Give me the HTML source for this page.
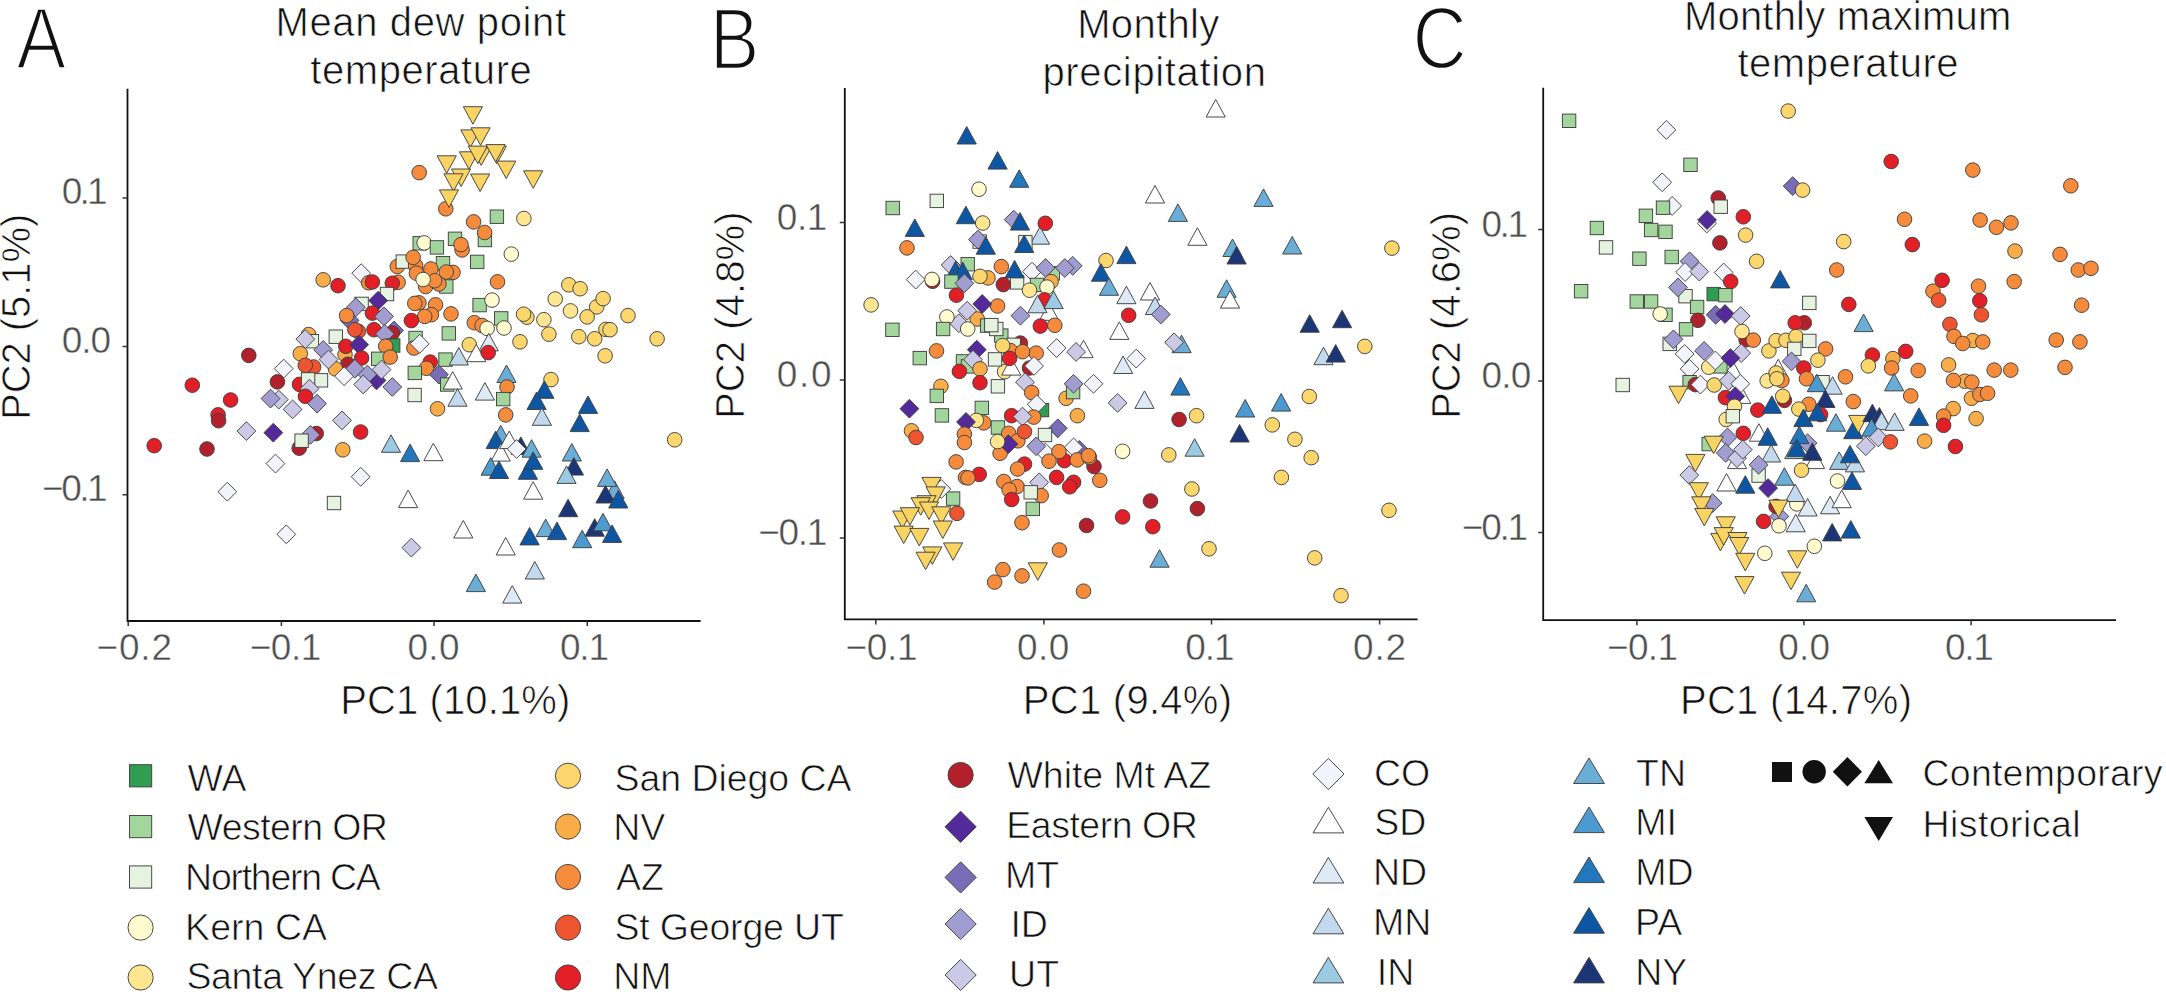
<!DOCTYPE html>
<html lang="en"><head><meta charset="utf-8"><title>PCA of climate variables</title>
<style>
html,body{margin:0;padding:0;background:#fff}
body{width:2166px;height:994px;overflow:hidden}
svg{display:block}
text{font-family:"Liberation Sans",sans-serif;fill:#111;stroke:#fff;stroke-width:.7px;paint-order:fill stroke}
.tk{fill:#4d4d4d;font-size:37px;stroke-width:.45px}
.ax{font-size:40px}
.ti{font-size:40px;text-anchor:middle}
.pl{font-size:87.5px;stroke-width:2.4px}
.lg{font-size:37.5px}
.m *{stroke:#404040;stroke-width:.95px;stroke-linejoin:miter}
.axl{stroke:#111;stroke-width:1.8px;fill:none}
.tkl{stroke:#333;stroke-width:1.5px;fill:none}
</style></head><body>
<svg width="2166" height="994" viewBox="0 0 2166 994">
<rect width="2166" height="994" fill="#fff"/>
<path class="axl" d="M127.5 88.8V621H700.6"/>
<path class="tkl" d="M128.2 621v5M281.4 621v5M434 621v5M587.3 621v5M127.5 198h-5M127.5 346.4h-5M127.5 494.8h-5"/>
<text x="96.4" y="660" class="tk" textLength="75.7" lengthAdjust="spacing">−0.2</text>
<text x="249.7" y="660" class="tk" textLength="71.7" lengthAdjust="spacing">−0.1</text>
<text x="407.4" y="660" class="tk" textLength="52.1" lengthAdjust="spacing">0.0</text>
<text x="559.9" y="660" class="tk" textLength="49.2" lengthAdjust="spacing">0.1</text>
<text x="61.7" y="204.2" class="tk" textLength="46" lengthAdjust="spacing">0.1</text>
<text x="61.7" y="352.6" class="tk" textLength="49.4" lengthAdjust="spacing">0.0</text>
<text x="42" y="501" class="tk" textLength="65.7" lengthAdjust="spacing">−0.1</text>
<text x="340.2" y="713.6" class="ax" textLength="230.1" lengthAdjust="spacing">PC1 (10.1%)</text>
<text class="ax" transform="translate(30.4 420) rotate(-90)" x="0" y="0" textLength="206.4" lengthAdjust="spacing">PC2 (5.1%)</text>
<text x="420.8" y="35.9" class="ti" textLength="290.6" lengthAdjust="spacing">Mean dew point</text>
<text x="421" y="84.4" class="ti" textLength="221.6" lengthAdjust="spacing">temperature</text>
<text class="pl" transform="translate(16.5 68.6) scale(0.85 1)">A</text>
<path class="axl" d="M844.8 87.9V619.4H1417.6"/>
<path class="tkl" d="M875.8 619.4v5M1043.9 619.4v5M1211.5 619.4v5M1379.6 619.4v5M844.8 222.5h-5M844.8 380h-5M844.8 538h-5"/>
<text x="845.5" y="660" class="tk" textLength="72" lengthAdjust="spacing">−0.1</text>
<text x="1016.9" y="660" class="tk" textLength="52.5" lengthAdjust="spacing">0.0</text>
<text x="1185.3" y="660" class="tk" textLength="49.2" lengthAdjust="spacing">0.1</text>
<text x="1353" y="660" class="tk" textLength="53.2" lengthAdjust="spacing">0.2</text>
<text x="776.8" y="229.7" class="tk" textLength="50.5" lengthAdjust="spacing">0.1</text>
<text x="776.8" y="387.2" class="tk" textLength="54.7" lengthAdjust="spacing">0.0</text>
<text x="758.3" y="545.2" class="tk" textLength="69" lengthAdjust="spacing">−0.1</text>
<text x="1022.8" y="713.6" class="ax" textLength="209.2" lengthAdjust="spacing">PC1 (9.4%)</text>
<text class="ax" transform="translate(744.1 419) rotate(-90)" x="0" y="0" textLength="207.6" lengthAdjust="spacing">PC2 (4.8%)</text>
<text x="1148.2" y="37.5" class="ti" textLength="142.1" lengthAdjust="spacing">Monthly</text>
<text x="1154.2" y="85.5" class="ti" textLength="223.6" lengthAdjust="spacing">precipitation</text>
<text class="pl" transform="translate(709.8 68.6) scale(0.85 1)">B</text>
<path class="axl" d="M1543.2 87.8V620.2H2116"/>
<path class="tkl" d="M1636.9 620.2v5M1803.9 620.2v5M1971.1 620.2v5M1543.2 229.6h-5M1543.2 380.9h-5M1543.2 532.5h-5"/>
<text x="1607.1" y="660" class="tk" textLength="70.9" lengthAdjust="spacing">−0.1</text>
<text x="1778.3" y="660" class="tk" textLength="51.8" lengthAdjust="spacing">0.0</text>
<text x="1944.9" y="660" class="tk" textLength="49" lengthAdjust="spacing">0.1</text>
<text x="1481.5" y="237" class="tk" textLength="46.5" lengthAdjust="spacing">0.1</text>
<text x="1481.5" y="388.3" class="tk" textLength="49.8" lengthAdjust="spacing">0.0</text>
<text x="1461.8" y="539.9" class="tk" textLength="66.2" lengthAdjust="spacing">−0.1</text>
<text x="1679.9" y="713.8" class="ax" textLength="232.1" lengthAdjust="spacing">PC1 (14.7%)</text>
<text class="ax" transform="translate(1460.2 419) rotate(-90)" x="0" y="0" textLength="207" lengthAdjust="spacing">PC2 (4.6%)</text>
<text x="1847.6" y="29.9" class="ti" textLength="327.3" lengthAdjust="spacing">Monthly maximum</text>
<text x="1848" y="77.3" class="ti" textLength="221.2" lengthAdjust="spacing">temperature</text>
<text class="pl" transform="translate(1412.6 67.5) scale(0.86 1)">C</text>
<g class="m">
<rect x="129.5" y="764.7" width="22.2" height="22.2" fill="#2f9e52"/>
<rect x="129.5" y="815.5" width="22.2" height="22.2" fill="#a3d69c"/>
<rect x="129.5" y="865.9" width="22.2" height="22.2" fill="#e6f3e1"/>
<circle cx="140.6" cy="927.6" r="12.6" fill="#fffbce"/>
<circle cx="140.6" cy="977.5" r="12.6" fill="#fde68f"/>
<circle cx="568" cy="775.8" r="12.6" fill="#fbd66c"/>
<circle cx="568" cy="826.6" r="12.6" fill="#f9ad49"/>
<circle cx="568" cy="877" r="12.6" fill="#f58b3b"/>
<circle cx="568" cy="927.6" r="12.6" fill="#ee5430"/>
<circle cx="568" cy="977.5" r="12.6" fill="#e21f26"/>
<circle cx="960.6" cy="775" r="12.6" fill="#b2202b"/>
<path d="M960.6 811.2L976.2 826.8L960.6 842.4L945 826.8Z" fill="#54299a"/>
<path d="M960.6 861.8L976.2 877.4L960.6 893L945 877.4Z" fill="#7a6db8"/>
<path d="M960.6 908.4L976.2 924L960.6 939.6L945 924Z" fill="#a29dd0"/>
<path d="M960.6 959.4L976.2 975L960.6 990.6L945 975Z" fill="#ccc9e6"/>
<path d="M1328.4 758.4L1344 774L1328.4 789.6L1312.8 774Z" fill="#f3f3fb"/>
<path d="M1328.4 807.3L1343.8 832.9L1313 832.9Z" fill="#ffffff"/>
<path d="M1328.4 857.4L1343.8 883L1313 883Z" fill="#deebf7"/>
<path d="M1328.4 908.2L1343.8 933.8L1313 933.8Z" fill="#c3d9ee"/>
<path d="M1328.4 957.3L1343.8 982.9L1313 982.9Z" fill="#9ccae3"/>
<path d="M1589 757.9L1604.4 783.5L1573.6 783.5Z" fill="#6aaed8"/>
<path d="M1589 807L1604.4 832.6L1573.6 832.6Z" fill="#4b9bd0"/>
<path d="M1589 857L1604.4 882.6L1573.6 882.6Z" fill="#2378bd"/>
<path d="M1589 907.6L1604.4 933.2L1573.6 933.2Z" fill="#0d56a3"/>
<path d="M1589 957.3L1604.4 982.9L1573.6 982.9Z" fill="#1c3576"/>
</g>
<text x="187.6" y="790.5" class="lg">WA</text>
<text x="187.6" y="839.8" class="lg" textLength="200.3" lengthAdjust="spacing">Western OR</text>
<text x="185.1" y="890" class="lg" textLength="195.6" lengthAdjust="spacing">Northern CA</text>
<text x="185.1" y="940" class="lg" textLength="142" lengthAdjust="spacing">Kern CA</text>
<text x="186.4" y="989.3" class="lg" textLength="251.5" lengthAdjust="spacing">Santa Ynez CA</text>
<text x="614.5" y="790.5" class="lg" textLength="237.1" lengthAdjust="spacing">San Diego CA</text>
<text x="613.2" y="839.8" class="lg">NV</text>
<text x="616" y="890" class="lg">AZ</text>
<text x="614.5" y="940" class="lg" textLength="229.3" lengthAdjust="spacing">St George UT</text>
<text x="613.2" y="989.3" class="lg">NM</text>
<text x="1007.5" y="788" class="lg" textLength="203.7" lengthAdjust="spacing">White Mt AZ</text>
<text x="1006.3" y="838" class="lg" textLength="191.5" lengthAdjust="spacing">Eastern OR</text>
<text x="1005" y="888" class="lg">MT</text>
<text x="1010.4" y="936.5" class="lg">ID</text>
<text x="1009.1" y="986.7" class="lg">UT</text>
<text x="1374" y="786" class="lg">CO</text>
<text x="1374.2" y="835" class="lg">SD</text>
<text x="1372.9" y="885" class="lg">ND</text>
<text x="1372.9" y="935" class="lg">MN</text>
<text x="1376.8" y="984.5" class="lg">IN</text>
<text x="1636.1" y="786" class="lg">TN</text>
<text x="1635.2" y="835" class="lg">MI</text>
<text x="1635.2" y="885" class="lg">MD</text>
<text x="1635" y="935" class="lg">PA</text>
<text x="1635.2" y="984.5" class="lg">NY</text>
<rect x="1772" y="762" width="20" height="20" fill="#111"/>
<circle cx="1814.2" cy="771.7" r="11.7" fill="#111"/>
<path d="M1847.4 757L1862 771.7L1847.4 786.4L1832.8 771.7Z" fill="#111"/>
<path d="M1878.7 760L1893 783.2H1864.4Z" fill="#111"/>
<path d="M1864.4 817H1893L1878.7 841Z" fill="#111"/>
<text x="1922.5" y="786" class="lg" textLength="240" lengthAdjust="spacing">Contemporary</text>
<text x="1922.5" y="836.9" class="lg" textLength="158" lengthAdjust="spacing">Historical</text>
<g class="m">
<circle cx="419.2" cy="172.6" r="7.3" fill="#f58b3b"/>
<circle cx="445.8" cy="208.8" r="7.3" fill="#f58b3b"/>
<circle cx="473.6" cy="221.9" r="7.3" fill="#f58b3b"/>
<rect x="490.2" y="210" width="13.4" height="13.4" fill="#a3d69c"/>
<circle cx="523.9" cy="218.5" r="7.3" fill="#fde68f"/>
<path d="M460.8 129.9L480 129.9L470.4 147.4Z" fill="#f9d463"/>
<path d="M471 127.8L490.2 127.8L480.6 145.3Z" fill="#f9d463"/>
<path d="M463.3 106.7L482.5 106.7L472.9 124.2Z" fill="#f9d463"/>
<path d="M459.4 151.8L478.6 151.8L469 169.3Z" fill="#f9d463"/>
<path d="M471.6 147.9L490.9 147.9L481.2 165.4Z" fill="#f9d463"/>
<path d="M468.2 146.1L487.4 146.1L477.8 163.6Z" fill="#f9d463"/>
<path d="M487.2 146.2L506.4 146.2L496.8 163.8Z" fill="#f9d463"/>
<path d="M486 144.6L505.2 144.6L495.6 162.1Z" fill="#f9d463"/>
<path d="M437.1 155.8L456.3 155.8L446.7 173.3Z" fill="#f9d463"/>
<path d="M496.6 161.1L515.9 161.1L506.2 178.6Z" fill="#f9d463"/>
<path d="M523.6 170.8L542.8 170.8L533.2 188.3Z" fill="#f9d463"/>
<path d="M451.5 169L470.7 169L461.1 186.5Z" fill="#f9d463"/>
<path d="M443.9 173.8L463.1 173.8L453.5 191.2Z" fill="#f9d463"/>
<path d="M470.5 174L489.7 174L480.1 191.5Z" fill="#f9d463"/>
<path d="M439.4 189.9L458.6 189.9L449 207.4Z" fill="#f9d463"/>
<rect x="478.2" y="233.3" width="13.4" height="13.4" fill="#a3d69c"/>
<circle cx="484.6" cy="232.5" r="7.3" fill="#f58b3b"/>
<rect x="448.3" y="232.1" width="13.4" height="13.4" fill="#a3d69c"/>
<circle cx="462.1" cy="249.9" r="7.3" fill="#f58b3b"/>
<circle cx="461" cy="244.6" r="7.3" fill="#f58b3b"/>
<rect x="413" y="236.6" width="13.4" height="13.4" fill="#a3d69c"/>
<circle cx="424.2" cy="242.9" r="7.3" fill="#fffbce"/>
<rect x="430.2" y="240.7" width="13.4" height="13.4" fill="#a3d69c"/>
<circle cx="511.3" cy="254.1" r="7.3" fill="#fffbce"/>
<rect x="470.5" y="255.2" width="13.4" height="13.4" fill="#a3d69c"/>
<circle cx="397.3" cy="266.5" r="7.3" fill="#f58b3b"/>
<rect x="396.1" y="254.9" width="13.4" height="13.4" fill="#e6f3e1"/>
<rect x="436.3" y="256.5" width="13.4" height="13.4" fill="#a3d69c"/>
<rect x="439.6" y="279.8" width="13.4" height="13.4" fill="#a3d69c"/>
<circle cx="415.6" cy="265.7" r="7.3" fill="#f58b3b"/>
<circle cx="413.1" cy="257.4" r="7.3" fill="#f58b3b"/>
<circle cx="430.9" cy="269" r="7.3" fill="#f58b3b"/>
<circle cx="416.4" cy="273.2" r="7.3" fill="#f58b3b"/>
<circle cx="453" cy="272.4" r="7.3" fill="#f58b3b"/>
<circle cx="446.3" cy="272" r="7.3" fill="#f58b3b"/>
<circle cx="425.6" cy="286.5" r="7.3" fill="#f58b3b"/>
<circle cx="438.9" cy="284" r="7.3" fill="#f58b3b"/>
<circle cx="434.7" cy="280.7" r="7.3" fill="#f58b3b"/>
<circle cx="423.1" cy="279.5" r="7.3" fill="#fffbce"/>
<circle cx="497.5" cy="281.8" r="7.3" fill="#f58b3b"/>
<path d="M361.2 263.8L370.6 273.2L361.2 282.6L351.8 273.2Z" fill="#f3f3fb"/>
<circle cx="338" cy="285.7" r="7.3" fill="#e21f26"/>
<circle cx="368.6" cy="282.8" r="7.3" fill="#f58b3b"/>
<circle cx="372.4" cy="282" r="7.3" fill="#e21f26"/>
<circle cx="398.1" cy="282.3" r="7.3" fill="#f58b3b"/>
<circle cx="392.3" cy="283.2" r="7.3" fill="#e21f26"/>
<rect x="380.3" y="287.3" width="13.4" height="13.4" fill="#e6f3e1"/>
<path d="M378.2 291.2L387.6 300.6L378.2 310L368.8 300.6Z" fill="#54299a"/>
<rect x="354.9" y="297.2" width="13.4" height="13.4" fill="#e6f3e1"/>
<path d="M355.8 297.9L365.2 307.3L355.8 316.7L346.4 307.3Z" fill="#a29dd0"/>
<circle cx="568.8" cy="284.8" r="7.3" fill="#fbd66c"/>
<circle cx="580.1" cy="288.7" r="7.3" fill="#fbd66c"/>
<circle cx="555.2" cy="299" r="7.3" fill="#fde68f"/>
<circle cx="596.7" cy="306.9" r="7.3" fill="#fbd66c"/>
<circle cx="603.1" cy="298.6" r="7.3" fill="#fbd66c"/>
<circle cx="570.5" cy="310.9" r="7.3" fill="#fde68f"/>
<circle cx="587.1" cy="316.9" r="7.3" fill="#fbd66c"/>
<circle cx="628" cy="315.6" r="7.3" fill="#fbd66c"/>
<circle cx="526.9" cy="317.2" r="7.3" fill="#fbd66c"/>
<circle cx="523.6" cy="314.2" r="7.3" fill="#fbd66c"/>
<circle cx="543.9" cy="319.7" r="7.3" fill="#fde68f"/>
<circle cx="548.9" cy="334.2" r="7.3" fill="#fbd66c"/>
<circle cx="605.9" cy="329.4" r="7.3" fill="#fbd66c"/>
<circle cx="610" cy="329.7" r="7.3" fill="#fbd66c"/>
<circle cx="578.8" cy="336.7" r="7.3" fill="#fbd66c"/>
<circle cx="594.7" cy="338.8" r="7.3" fill="#fbd66c"/>
<circle cx="657.1" cy="338.8" r="7.3" fill="#fbd66c"/>
<circle cx="520" cy="341.8" r="7.3" fill="#fbd66c"/>
<circle cx="605.1" cy="355.8" r="7.3" fill="#fbd66c"/>
<circle cx="551" cy="379.6" r="7.3" fill="#fbd66c"/>
<circle cx="469.3" cy="344.7" r="7.3" fill="#fbd66c"/>
<rect x="472.9" y="298.4" width="13.4" height="13.4" fill="#a3d69c"/>
<circle cx="492" cy="300.1" r="7.3" fill="#fffbce"/>
<rect x="494.5" y="311.7" width="13.4" height="13.4" fill="#a3d69c"/>
<circle cx="474.3" cy="322.7" r="7.3" fill="#f58b3b"/>
<circle cx="482.1" cy="325.5" r="7.3" fill="#f58b3b"/>
<circle cx="487.1" cy="328.4" r="7.3" fill="#fffbce"/>
<circle cx="504" cy="328" r="7.3" fill="#fffbce"/>
<circle cx="418.9" cy="302.8" r="7.3" fill="#f58b3b"/>
<circle cx="414.8" cy="303.4" r="7.3" fill="#f58b3b"/>
<circle cx="435.5" cy="304.8" r="7.3" fill="#f58b3b"/>
<circle cx="431.4" cy="314.7" r="7.3" fill="#f58b3b"/>
<circle cx="424.7" cy="316.4" r="7.3" fill="#f58b3b"/>
<circle cx="451" cy="313.9" r="7.3" fill="#f58b3b"/>
<circle cx="411.4" cy="320.6" r="7.3" fill="#e21f26"/>
<path d="M349.6 311L359 320.4L349.6 329.8L340.2 320.4Z" fill="#7a6db8"/>
<circle cx="346.6" cy="315.6" r="7.3" fill="#f58b3b"/>
<circle cx="372.4" cy="313.1" r="7.3" fill="#e21f26"/>
<path d="M384 307L393.4 316.4L384 325.8L374.6 316.4Z" fill="#a29dd0"/>
<path d="M394 321.1L403.4 330.5L394 339.9L384.6 330.5Z" fill="#7a6db8"/>
<circle cx="392.3" cy="333" r="7.3" fill="#b2202b"/>
<circle cx="374" cy="329.7" r="7.3" fill="#e21f26"/>
<circle cx="358.3" cy="331.4" r="7.3" fill="#ee5430"/>
<circle cx="354.9" cy="329.7" r="7.3" fill="#ee5430"/>
<path d="M384.8 324.5L394.2 333.9L384.8 343.3L375.4 333.9Z" fill="#a29dd0"/>
<rect x="329.1" y="330" width="13.4" height="13.4" fill="#e6f3e1"/>
<rect x="442.1" y="326.7" width="13.4" height="13.4" fill="#a3d69c"/>
<rect x="408.9" y="331.3" width="13.4" height="13.4" fill="#a3d69c"/>
<circle cx="413.9" cy="348" r="7.3" fill="#f58b3b"/>
<path d="M419.7 334.4L429.1 343.8L419.7 353.2L410.3 343.8Z" fill="#f3f3fb"/>
<rect x="386.5" y="338.8" width="13.4" height="13.4" fill="#2f9e52"/>
<circle cx="385.7" cy="346.3" r="7.3" fill="#f58b3b"/>
<rect x="371.5" y="352.1" width="13.4" height="13.4" fill="#a3d69c"/>
<circle cx="390.2" cy="357.1" r="7.3" fill="#f58b3b"/>
<circle cx="345" cy="354.6" r="7.3" fill="#f9ad49"/>
<circle cx="345.8" cy="346.3" r="7.3" fill="#e21f26"/>
<path d="M359.1 335.3L368.5 344.7L359.1 354.1L349.7 344.7Z" fill="#54299a"/>
<circle cx="361.6" cy="358" r="7.3" fill="#e21f26"/>
<path d="M488.7 333.4L498.3 350.9L479.1 350.9Z" fill="#deebf7"/>
<path d="M476.3 344.2L485.9 361.7L466.7 361.7Z" fill="#ffffff"/>
<circle cx="488.2" cy="352.6" r="7.3" fill="#e21f26"/>
<rect x="438.8" y="352.9" width="13.4" height="13.4" fill="#a3d69c"/>
<path d="M458.8 347.5L468.4 365L449.2 365Z" fill="#c3d9ee"/>
<circle cx="430.2" cy="362.1" r="7.3" fill="#e21f26"/>
<circle cx="426.4" cy="368.3" r="7.3" fill="#f58b3b"/>
<path d="M438.9 365.2L448.3 374.6L438.9 384L429.5 374.6Z" fill="#7a6db8"/>
<rect x="408.1" y="366.2" width="13.4" height="13.4" fill="#a3d69c"/>
<rect x="440.5" y="377.8" width="13.4" height="13.4" fill="#a3d69c"/>
<path d="M452.7 371.6L462.3 389.1L443.1 389.1Z" fill="#ffffff"/>
<path d="M506.5 365L516.1 382.5L496.9 382.5Z" fill="#6aaed8"/>
<circle cx="507" cy="387" r="7.3" fill="#f58b3b"/>
<path d="M544.4 380.8L554 398.3L534.8 398.3Z" fill="#0d56a3"/>
<circle cx="347.9" cy="364.3" r="7.3" fill="#b2202b"/>
<path d="M376.5 371L385.9 380.4L376.5 389.8L367.1 380.4Z" fill="#54299a"/>
<circle cx="335.5" cy="368.9" r="7.3" fill="#f9ad49"/>
<path d="M354.9 359.4L364.3 368.8L354.9 378.2L345.5 368.8Z" fill="#a29dd0"/>
<path d="M367.4 365.2L376.8 374.6L367.4 384L358 374.6Z" fill="#a29dd0"/>
<path d="M381.5 360.2L390.9 369.6L381.5 379L372.1 369.6Z" fill="#ccc9e6"/>
<path d="M344.1 366.8L353.5 376.2L344.1 385.6L334.7 376.2Z" fill="#f3f3fb"/>
<path d="M363.2 375.1L372.6 384.5L363.2 393.9L353.8 384.5Z" fill="#ccc9e6"/>
<path d="M392.3 377.6L401.7 387L392.3 396.4L382.9 387Z" fill="#a29dd0"/>
<circle cx="323.2" cy="279.8" r="7.3" fill="#f9ad49"/>
<circle cx="308.6" cy="334.6" r="7.3" fill="#f9ad49"/>
<rect x="305.2" y="334.5" width="13.4" height="13.4" fill="#e6f3e1"/>
<path d="M305.3 329.7L314.7 339.1L305.3 348.5L295.9 339.1Z" fill="#ccc9e6"/>
<path d="M323.2 340.5L332.6 349.9L323.2 359.3L313.8 349.9Z" fill="#a29dd0"/>
<path d="M328.5 350.1L337.9 359.5L328.5 368.9L319.1 359.5Z" fill="#ccc9e6"/>
<circle cx="300.3" cy="353.7" r="7.3" fill="#f9ad49"/>
<circle cx="313.6" cy="367" r="7.3" fill="#ee5430"/>
<circle cx="305.3" cy="365.3" r="7.3" fill="#ee5430"/>
<path d="M283.7 359.2L293.1 368.6L283.7 378L274.3 368.6Z" fill="#f3f3fb"/>
<circle cx="248.8" cy="355.4" r="7.3" fill="#b2202b"/>
<circle cx="192.3" cy="385.2" r="7.3" fill="#e21f26"/>
<circle cx="277.4" cy="381.9" r="7.3" fill="#b2202b"/>
<circle cx="299.5" cy="384.4" r="7.3" fill="#e21f26"/>
<rect x="314.3" y="373.6" width="13.4" height="13.4" fill="#e6f3e1"/>
<rect x="301.4" y="372.7" width="13.4" height="13.4" fill="#e6f3e1"/>
<path d="M309.5 379.3L318.9 388.7L309.5 398.1L300.1 388.7Z" fill="#ccc9e6"/>
<circle cx="230.6" cy="400" r="7.3" fill="#e21f26"/>
<circle cx="218.1" cy="414.9" r="7.3" fill="#e21f26"/>
<circle cx="218.6" cy="420.7" r="7.3" fill="#b2202b"/>
<circle cx="154.2" cy="445.7" r="7.3" fill="#e21f26"/>
<circle cx="207" cy="449" r="7.3" fill="#b2202b"/>
<path d="M278.8 390.2L288.2 399.6L278.8 409L269.4 399.6Z" fill="#ccc9e6"/>
<path d="M270.5 389.2L279.9 398.6L270.5 408L261.1 398.6Z" fill="#a29dd0"/>
<circle cx="305.4" cy="396.3" r="7.3" fill="#e21f26"/>
<path d="M317 394.2L326.4 403.6L317 413L307.6 403.6Z" fill="#a29dd0"/>
<path d="M292.6 400L302 409.4L292.6 418.8L283.2 409.4Z" fill="#ccc9e6"/>
<path d="M342 411L351.4 420.4L342 429.8L332.6 420.4Z" fill="#ccc9e6"/>
<path d="M246.4 421.7L255.8 431.1L246.4 440.5L237 431.1Z" fill="#ccc9e6"/>
<path d="M273.3 423.3L282.7 432.7L273.3 442.1L263.9 432.7Z" fill="#54299a"/>
<circle cx="316.2" cy="433.5" r="7.3" fill="#b2202b"/>
<path d="M310.4 425.5L319.8 434.9L310.4 444.3L301 434.9Z" fill="#a29dd0"/>
<circle cx="299.2" cy="448.2" r="7.3" fill="#b2202b"/>
<rect x="294.9" y="434" width="13.4" height="13.4" fill="#e6f3e1"/>
<circle cx="360.6" cy="432" r="7.3" fill="#e21f26"/>
<circle cx="342.8" cy="449.8" r="7.3" fill="#f9ad49"/>
<path d="M275.5 454.2L284.9 463.6L275.5 473L266.1 463.6Z" fill="#f3f3fb"/>
<path d="M360.7 467.4L370.1 476.8L360.7 486.2L351.3 476.8Z" fill="#f3f3fb"/>
<path d="M227.3 482.3L236.7 491.7L227.3 501.1L217.9 491.7Z" fill="#f3f3fb"/>
<rect x="327.3" y="496.3" width="13.4" height="13.4" fill="#e6f3e1"/>
<path d="M286.3 524.9L295.7 534.3L286.3 543.7L276.9 534.3Z" fill="#f3f3fb"/>
<path d="M411.4 538.2L420.8 547.6L411.4 557L402 547.6Z" fill="#ccc9e6"/>
<path d="M408.1 490.1L417.7 507.6L398.5 507.6Z" fill="#ffffff"/>
<path d="M463.3 520.5L472.9 538L453.7 538Z" fill="#ffffff"/>
<path d="M505.7 537.5L515.3 555L496.1 555Z" fill="#ffffff"/>
<path d="M391 434.8L400.6 452.3L381.4 452.3Z" fill="#9ccae3"/>
<path d="M410.1 444.1L419.7 461.6L400.5 461.6Z" fill="#2378bd"/>
<path d="M433.4 443.2L443 460.7L423.8 460.7Z" fill="#ffffff"/>
<circle cx="437.5" cy="408.8" r="7.3" fill="#f9ad49"/>
<path d="M457.5 388.7L467.1 406.2L447.9 406.2Z" fill="#c3d9ee"/>
<path d="M484.9 382.6L494.5 400.1L475.3 400.1Z" fill="#deebf7"/>
<rect x="496.5" y="392.4" width="13.4" height="13.4" fill="#a3d69c"/>
<circle cx="505.7" cy="414.9" r="7.3" fill="#f58b3b"/>
<rect x="407.9" y="388.3" width="13.4" height="13.4" fill="#e6f3e1"/>
<path d="M500.7 425.3L510.3 442.8L491.1 442.8Z" fill="#6aaed8"/>
<path d="M495.7 431.1L505.3 448.6L486.1 448.6Z" fill="#0d56a3"/>
<path d="M500.7 443.6L510.3 461.1L491.1 461.1Z" fill="#ffffff"/>
<path d="M490.7 457.7L500.3 475.2L481.1 475.2Z" fill="#4b9bd0"/>
<path d="M499 461L508.6 478.5L489.4 478.5Z" fill="#0d56a3"/>
<path d="M536.6 392L546.2 409.5L527 409.5Z" fill="#0d56a3"/>
<path d="M541.9 407.8L551.5 425.3L532.3 425.3Z" fill="#c3d9ee"/>
<path d="M588 395.9L597.6 413.4L578.4 413.4Z" fill="#0d56a3"/>
<path d="M579.7 414.1L589.3 431.6L570.1 431.6Z" fill="#0d56a3"/>
<circle cx="674.7" cy="439.8" r="7.3" fill="#fbd66c"/>
<path d="M509.2 431.1L518.8 448.6L499.6 448.6Z" fill="#ffffff"/>
<path d="M520.8 436.9L530.4 454.4L511.2 454.4Z" fill="#1c3576"/>
<path d="M516.6 439.6L526 449L516.6 458.4L507.2 449Z" fill="#f3f3fb"/>
<path d="M531.6 439.7L541.2 457.2L522 457.2Z" fill="#6aaed8"/>
<path d="M527.9 461.8L537.5 479.3L518.3 479.3Z" fill="#0d56a3"/>
<path d="M533.2 451.8L542.8 469.3L523.6 469.3Z" fill="#0d56a3"/>
<path d="M533.2 481.7L542.8 499.2L523.6 499.2Z" fill="#ffffff"/>
<path d="M571.8 443.5L581.4 461L562.2 461Z" fill="#6aaed8"/>
<path d="M573.9 457.6L583.5 475.1L564.3 475.1Z" fill="#1c3576"/>
<path d="M566.5 465.9L576.1 483.4L556.9 483.4Z" fill="#9ccae3"/>
<path d="M614.6 480.9L624.2 498.4L605 498.4Z" fill="#6aaed8"/>
<path d="M607.1 468.9L616.7 486.4L597.5 486.4Z" fill="#6aaed8"/>
<path d="M605.5 485.5L615.1 503L595.9 503Z" fill="#1c3576"/>
<path d="M618.3 490.5L627.9 508L608.7 508Z" fill="#0d56a3"/>
<path d="M568.1 499.2L577.7 516.7L558.5 516.7Z" fill="#1c3576"/>
<path d="M545.7 519.1L555.3 536.6L536.1 536.6Z" fill="#6aaed8"/>
<path d="M557 522.1L566.6 539.6L547.4 539.6Z" fill="#0d56a3"/>
<path d="M529.6 527.4L539.2 544.9L520 544.9Z" fill="#0d56a3"/>
<path d="M594.7 518.7L604.3 536.2L585.1 536.2Z" fill="#1c3576"/>
<path d="M603 513.3L612.6 530.8L593.4 530.8Z" fill="#4b9bd0"/>
<path d="M612.1 524.9L621.7 542.4L602.5 542.4Z" fill="#0d56a3"/>
<path d="M582.2 530.2L591.8 547.7L572.6 547.7Z" fill="#4b9bd0"/>
<path d="M534.8 561.5L544.4 579L525.2 579Z" fill="#c3d9ee"/>
<path d="M475.9 574.1L485.5 591.6L466.3 591.6Z" fill="#6aaed8"/>
<path d="M512.3 585.6L521.9 603.1L502.7 603.1Z" fill="#deebf7"/>
</g>
<g class="m">
<path d="M1215.7 99.5L1225.3 117L1206.1 117Z" fill="#ffffff"/>
<path d="M966.7 126.5L976.3 144L957.1 144Z" fill="#0d56a3"/>
<path d="M997.6 151.6L1007.2 169.1L988 169.1Z" fill="#0d56a3"/>
<path d="M1019.2 169.8L1028.8 187.3L1009.6 187.3Z" fill="#2378bd"/>
<circle cx="979" cy="189.2" r="7.3" fill="#fffbce"/>
<rect x="930.1" y="194.2" width="13.4" height="13.4" fill="#e6f3e1"/>
<rect x="886" y="201.3" width="13.4" height="13.4" fill="#a3d69c"/>
<path d="M965.9 206.2L975.5 223.7L956.3 223.7Z" fill="#0d56a3"/>
<circle cx="982.7" cy="223" r="7.3" fill="#fde68f"/>
<path d="M1013.7 210.2L1023.1 219.6L1013.7 229L1004.3 219.6Z" fill="#a29dd0"/>
<path d="M1020 212.6L1029.6 230.1L1010.4 230.1Z" fill="#0d56a3"/>
<path d="M1040 226.7L1049.6 244.2L1030.4 244.2Z" fill="#c3d9ee"/>
<circle cx="1045.3" cy="223.3" r="7.3" fill="#e21f26"/>
<path d="M914.8 218.9L924.4 236.4L905.2 236.4Z" fill="#0d56a3"/>
<circle cx="907" cy="247.9" r="7.3" fill="#f58b3b"/>
<rect x="973" y="234.9" width="13.4" height="13.4" fill="#e6f3e1"/>
<path d="M978 230.2L987.4 239.6L978 249L968.6 239.6Z" fill="#a29dd0"/>
<path d="M985.8 236.7L995.4 254.2L976.2 254.2Z" fill="#0d56a3"/>
<rect x="1018.7" y="235.4" width="13.4" height="13.4" fill="#e6f3e1"/>
<path d="M1024.2 235L1033.8 252.5L1014.6 252.5Z" fill="#0d56a3"/>
<path d="M1155 185.5L1164.6 203L1145.4 203Z" fill="#ffffff"/>
<path d="M1177.9 203.9L1187.5 221.4L1168.3 221.4Z" fill="#6aaed8"/>
<path d="M1197.4 227.8L1207 245.3L1187.8 245.3Z" fill="#ffffff"/>
<path d="M1126.4 246.1L1136 263.6L1116.8 263.6Z" fill="#0d56a3"/>
<path d="M950.6 255.6L960 265L950.6 274.4L941.2 265Z" fill="#ccc9e6"/>
<rect x="961" y="257.5" width="13.4" height="13.4" fill="#a3d69c"/>
<path d="M955.6 261.2L965.2 278.7L946 278.7Z" fill="#0d56a3"/>
<path d="M962.7 262.1L972.3 279.6L953.1 279.6Z" fill="#0d56a3"/>
<rect x="944.7" y="274.9" width="13.4" height="13.4" fill="#a3d69c"/>
<path d="M964.4 273.9L973.8 283.3L964.4 292.7L955 283.3Z" fill="#a29dd0"/>
<path d="M915.7 270.2L925.1 279.6L915.7 289L906.3 279.6Z" fill="#f3f3fb"/>
<circle cx="932.6" cy="281.3" r="7.3" fill="#b2202b"/>
<circle cx="932" cy="279.4" r="7.3" fill="#fffbce"/>
<circle cx="988" cy="277.9" r="7.3" fill="#f9ad49"/>
<circle cx="980" cy="276.3" r="7.3" fill="#fbd66c"/>
<circle cx="1001.3" cy="266.6" r="7.3" fill="#f58b3b"/>
<rect x="1010.4" y="275.7" width="13.4" height="13.4" fill="#e6f3e1"/>
<path d="M1014.6 260.4L1024.2 277.9L1005 277.9Z" fill="#0d56a3"/>
<circle cx="1003.3" cy="284.6" r="7.3" fill="#b2202b"/>
<circle cx="956.4" cy="295.2" r="7.3" fill="#e21f26"/>
<path d="M1032 262.2L1041.4 271.6L1032 281L1022.6 271.6Z" fill="#f3f3fb"/>
<rect x="1046.1" y="266.6" width="13.4" height="13.4" fill="#a3d69c"/>
<path d="M1045.6 258.6L1055 268L1045.6 277.4L1036.2 268Z" fill="#a29dd0"/>
<path d="M1072.7 256.4L1082.1 265.8L1072.7 275.2L1063.3 265.8Z" fill="#a29dd0"/>
<path d="M1064.8 258.6L1074.2 268L1064.8 277.4L1055.4 268Z" fill="#a29dd0"/>
<circle cx="1051.1" cy="281.6" r="7.3" fill="#f9ad49"/>
<rect x="1030.3" y="278.2" width="13.4" height="13.4" fill="#a3d69c"/>
<circle cx="1029.5" cy="290.2" r="7.3" fill="#fde68f"/>
<circle cx="1047" cy="287.1" r="7.3" fill="#fffbce"/>
<path d="M1049.1 302.8L1058.7 320.3L1039.5 320.3Z" fill="#ffffff"/>
<circle cx="1044.5" cy="299.9" r="7.3" fill="#e21f26"/>
<path d="M1037.5 295.3L1047.1 312.8L1027.9 312.8Z" fill="#c3d9ee"/>
<path d="M1053.6 291.1L1063.2 308.6L1044 308.6Z" fill="#9ccae3"/>
<circle cx="1106" cy="260.5" r="7.3" fill="#fbd66c"/>
<path d="M1101 263.7L1110.6 281.2L1091.4 281.2Z" fill="#0d56a3"/>
<path d="M1109 277.8L1118.6 295.3L1099.4 295.3Z" fill="#6aaed8"/>
<path d="M1126.4 286.2L1136 303.7L1116.8 303.7Z" fill="#deebf7"/>
<path d="M1150 282.5L1159.6 300L1140.4 300Z" fill="#ffffff"/>
<path d="M1155 297L1164.6 314.5L1145.4 314.5Z" fill="#c3d9ee"/>
<path d="M1160.8 305.1L1170.2 314.5L1160.8 323.9L1151.4 314.5Z" fill="#a29dd0"/>
<circle cx="1128.7" cy="315.3" r="7.3" fill="#e21f26"/>
<circle cx="871.1" cy="304.9" r="7.3" fill="#fde68f"/>
<circle cx="997.6" cy="306" r="7.3" fill="#f58b3b"/>
<path d="M982.2 294.6L991.6 304L982.2 313.4L972.8 304Z" fill="#54299a"/>
<circle cx="977.2" cy="319" r="7.3" fill="#f9ad49"/>
<path d="M967.2 301.3L976.6 310.7L967.2 320.1L957.8 310.7Z" fill="#ccc9e6"/>
<path d="M958.9 313.8L968.3 323.2L958.9 332.6L949.5 323.2Z" fill="#ccc9e6"/>
<circle cx="946.9" cy="317" r="7.3" fill="#fffbce"/>
<circle cx="967.7" cy="329" r="7.3" fill="#fffbce"/>
<rect x="885.7" y="323.1" width="13.4" height="13.4" fill="#a3d69c"/>
<rect x="936.4" y="322.3" width="13.4" height="13.4" fill="#a3d69c"/>
<rect x="994.6" y="328.9" width="13.4" height="13.4" fill="#a3d69c"/>
<rect x="980.4" y="318.9" width="13.4" height="13.4" fill="#a3d69c"/>
<rect x="989.6" y="322.3" width="13.4" height="13.4" fill="#e6f3e1"/>
<rect x="984.6" y="318.4" width="13.4" height="13.4" fill="#e6f3e1"/>
<path d="M1020.4 306.3L1029.8 315.7L1020.4 325.1L1011 315.7Z" fill="#a29dd0"/>
<circle cx="1040.3" cy="326.1" r="7.3" fill="#e21f26"/>
<circle cx="1054.8" cy="325.3" r="7.3" fill="#f58b3b"/>
<path d="M1119.3 321.9L1128.9 339.4L1109.7 339.4Z" fill="#ffffff"/>
<path d="M1181.6 335.2L1191.2 352.7L1172 352.7Z" fill="#6aaed8"/>
<path d="M1174.1 332.9L1183.5 342.3L1174.1 351.7L1164.7 342.3Z" fill="#ccc9e6"/>
<path d="M976.8 340.3L986.2 349.7L976.8 359.1L967.4 349.7Z" fill="#54299a"/>
<circle cx="936.5" cy="350.9" r="7.3" fill="#f58b3b"/>
<rect x="913.1" y="351.4" width="13.4" height="13.4" fill="#a3d69c"/>
<circle cx="1020.4" cy="343.1" r="7.3" fill="#b2202b"/>
<rect x="1007" y="338.1" width="13.4" height="13.4" fill="#e6f3e1"/>
<circle cx="1010.4" cy="350.6" r="7.3" fill="#f58b3b"/>
<circle cx="1002.6" cy="345.6" r="7.3" fill="#fbd66c"/>
<circle cx="1036.2" cy="353.1" r="7.3" fill="#f58b3b"/>
<circle cx="1022.5" cy="351.7" r="7.3" fill="#f58b3b"/>
<circle cx="1004.6" cy="371.7" r="7.3" fill="#fde68f"/>
<path d="M1011.2 357.6L1020.8 375.1L1001.6 375.1Z" fill="#ffffff"/>
<circle cx="1009.6" cy="358.4" r="7.3" fill="#e21f26"/>
<rect x="956.3" y="354.7" width="13.4" height="13.4" fill="#a3d69c"/>
<rect x="961.3" y="359.7" width="13.4" height="13.4" fill="#a3d69c"/>
<path d="M973 350.3L982.4 359.7L973 369.1L963.6 359.7Z" fill="#ccc9e6"/>
<rect x="988.3" y="352.7" width="13.4" height="13.4" fill="#e6f3e1"/>
<circle cx="980" cy="368.9" r="7.3" fill="#f9ad49"/>
<circle cx="959.4" cy="371.4" r="7.3" fill="#e21f26"/>
<circle cx="1029.5" cy="368" r="7.3" fill="#b2202b"/>
<path d="M1034 356.5L1043.4 365.9L1034 375.3L1024.6 365.9Z" fill="#f3f3fb"/>
<path d="M1056.6 338.7L1066 348.1L1056.6 357.5L1047.2 348.1Z" fill="#f3f3fb"/>
<path d="M1083.5 340.2L1093.1 357.7L1073.9 357.7Z" fill="#ffffff"/>
<path d="M1076.1 342.5L1085.5 351.9L1076.1 361.3L1066.7 351.9Z" fill="#ccc9e6"/>
<path d="M1136.2 349.2L1145.6 358.6L1136.2 368L1126.8 358.6Z" fill="#f3f3fb"/>
<path d="M1123.1 356L1132.7 373.5L1113.5 373.5Z" fill="#deebf7"/>
<circle cx="980" cy="382.7" r="7.3" fill="#e21f26"/>
<circle cx="940.9" cy="386.3" r="7.3" fill="#f9ad49"/>
<rect x="930.1" y="389.2" width="13.4" height="13.4" fill="#a3d69c"/>
<rect x="991.2" y="379.6" width="13.4" height="13.4" fill="#e6f3e1"/>
<path d="M1025 372.8L1034.4 382.2L1025 391.6L1015.6 382.2Z" fill="#ccc9e6"/>
<circle cx="1031.7" cy="392.5" r="7.3" fill="#f58b3b"/>
<rect x="1035.3" y="403.4" width="13.4" height="13.4" fill="#2f9e52"/>
<path d="M1036.7 394.9L1046.1 404.3L1036.7 413.7L1027.3 404.3Z" fill="#f3f3fb"/>
<circle cx="1066.1" cy="398.3" r="7.3" fill="#f9ad49"/>
<rect x="1066.4" y="385.4" width="13.4" height="13.4" fill="#a3d69c"/>
<path d="M1073.6 374.4L1083 383.8L1073.6 393.2L1064.2 383.8Z" fill="#a29dd0"/>
<path d="M1093.5 374.4L1102.9 383.8L1093.5 393.2L1084.1 383.8Z" fill="#f3f3fb"/>
<path d="M1117.6 393.5L1127 402.9L1117.6 412.3L1108.2 402.9Z" fill="#ccc9e6"/>
<path d="M1144.5 390.9L1154.1 408.4L1134.9 408.4Z" fill="#deebf7"/>
<path d="M1180.4 377.6L1190 395.1L1170.8 395.1Z" fill="#2378bd"/>
<path d="M909.4 399.3L918.8 408.7L909.4 418.1L900 408.7Z" fill="#54299a"/>
<rect x="975.1" y="401.2" width="13.4" height="13.4" fill="#a3d69c"/>
<rect x="935.2" y="408.7" width="13.4" height="13.4" fill="#a3d69c"/>
<circle cx="1011.6" cy="415.7" r="7.3" fill="#e21f26"/>
<circle cx="1033.7" cy="417.1" r="7.3" fill="#f58b3b"/>
<path d="M1022.5 407.2L1031.9 416.6L1022.5 426L1013.1 416.6Z" fill="#ccc9e6"/>
<circle cx="1077.4" cy="415.7" r="7.3" fill="#f9ad49"/>
<circle cx="1179.1" cy="419.5" r="7.3" fill="#b2202b"/>
<circle cx="1196.5" cy="415.7" r="7.3" fill="#fbd66c"/>
<circle cx="983.8" cy="422.9" r="7.3" fill="#f58b3b"/>
<circle cx="976.3" cy="420.4" r="7.3" fill="#fde68f"/>
<path d="M966 412.6L975.4 422L966 431.4L956.6 422Z" fill="#54299a"/>
<circle cx="911.5" cy="430.8" r="7.3" fill="#f9ad49"/>
<circle cx="916" cy="437.5" r="7.3" fill="#ee5430"/>
<rect x="991.2" y="420.8" width="13.4" height="13.4" fill="#a3d69c"/>
<circle cx="964.4" cy="434.1" r="7.3" fill="#f58b3b"/>
<circle cx="964.4" cy="442.5" r="7.3" fill="#f58b3b"/>
<circle cx="1008.7" cy="433.3" r="7.3" fill="#f58b3b"/>
<circle cx="1017.9" cy="440.8" r="7.3" fill="#f58b3b"/>
<circle cx="1000.1" cy="453.3" r="7.3" fill="#f58b3b"/>
<path d="M1008.4 434.7L1017.8 444.1L1008.4 453.5L999 444.1Z" fill="#54299a"/>
<circle cx="997.6" cy="441.6" r="7.3" fill="#fde68f"/>
<circle cx="1024.5" cy="431.6" r="7.3" fill="#ee5430"/>
<path d="M1057.8 418.9L1067.2 428.3L1057.8 437.7L1048.4 428.3Z" fill="#7a6db8"/>
<rect x="1038.3" y="428.3" width="13.4" height="13.4" fill="#e6f3e1"/>
<path d="M1045.3 443L1054.7 452.4L1045.3 461.8L1035.9 452.4Z" fill="#f3f3fb"/>
<path d="M1036.2 436.9L1045.6 446.3L1036.2 455.7L1026.8 446.3Z" fill="#a29dd0"/>
<path d="M1079.4 440.5L1088.8 449.9L1079.4 459.3L1070 449.9Z" fill="#7a6db8"/>
<path d="M1073.6 438L1083 447.4L1073.6 456.8L1064.2 447.4Z" fill="#f3f3fb"/>
<circle cx="1064.4" cy="460.7" r="7.3" fill="#e21f26"/>
<circle cx="1058.9" cy="451.6" r="7.3" fill="#f58b3b"/>
<circle cx="1049" cy="461.2" r="7.3" fill="#f58b3b"/>
<circle cx="1094" cy="466.5" r="7.3" fill="#b2202b"/>
<circle cx="1077.2" cy="459.9" r="7.3" fill="#f58b3b"/>
<circle cx="1089.4" cy="457.4" r="7.3" fill="#f58b3b"/>
<circle cx="1088.5" cy="455.7" r="7.3" fill="#f58b3b"/>
<circle cx="1099.8" cy="480.3" r="7.3" fill="#f58b3b"/>
<circle cx="1122.6" cy="451.3" r="7.3" fill="#fffbce"/>
<circle cx="1168.8" cy="454.9" r="7.3" fill="#fbd66c"/>
<path d="M1194.6 438.7L1204.2 456.2L1185 456.2Z" fill="#9ccae3"/>
<circle cx="956.1" cy="461.9" r="7.3" fill="#f58b3b"/>
<circle cx="1024.5" cy="464.1" r="7.3" fill="#e21f26"/>
<circle cx="1017.6" cy="469" r="7.3" fill="#f58b3b"/>
<circle cx="979.2" cy="474.4" r="7.3" fill="#e21f26"/>
<circle cx="965.5" cy="477.4" r="7.3" fill="#f58b3b"/>
<circle cx="968" cy="477.9" r="7.3" fill="#f58b3b"/>
<circle cx="1003.8" cy="481.5" r="7.3" fill="#f58b3b"/>
<circle cx="1017.1" cy="486.5" r="7.3" fill="#f58b3b"/>
<circle cx="1009.1" cy="489.8" r="7.3" fill="#f58b3b"/>
<circle cx="1011.7" cy="499.5" r="7.3" fill="#e21f26"/>
<path d="M1039.2 472.9L1048.6 482.3L1039.2 491.7L1029.8 482.3Z" fill="#ccc9e6"/>
<circle cx="1041.2" cy="495.6" r="7.3" fill="#f58b3b"/>
<rect x="1024" y="485.6" width="13.4" height="13.4" fill="#e6f3e1"/>
<rect x="1026.1" y="502.2" width="13.4" height="13.4" fill="#a3d69c"/>
<circle cx="1056.6" cy="477.4" r="7.3" fill="#e21f26"/>
<circle cx="1073.6" cy="482.3" r="7.3" fill="#e21f26"/>
<circle cx="1069.7" cy="486.8" r="7.3" fill="#e21f26"/>
<circle cx="1022" cy="522.7" r="7.3" fill="#f58b3b"/>
<circle cx="956.9" cy="513.4" r="7.3" fill="#ee5430"/>
<rect x="946.4" y="491.9" width="13.4" height="13.4" fill="#a3d69c"/>
<path d="M941.4 479.6L950.8 489L941.4 498.4L932 489Z" fill="#f3f3fb"/>
<path d="M921.9 477.4L941.1 477.4L931.5 494.9Z" fill="#f9d463"/>
<path d="M926 486.9L945.2 486.9L935.6 504.4Z" fill="#f9d463"/>
<path d="M916.9 495.7L936.1 495.7L926.5 513.2Z" fill="#f9d463"/>
<path d="M911.1 497.7L930.3 497.7L920.7 515.2Z" fill="#f9d463"/>
<path d="M892.8 511L912 511L902.4 528.5Z" fill="#f9d463"/>
<path d="M900.3 507.7L919.5 507.7L909.9 525.2Z" fill="#f9d463"/>
<path d="M919.4 502L938.6 502L929 519.5Z" fill="#f9d463"/>
<path d="M931.8 506.8L951 506.8L941.4 524.3Z" fill="#f9d463"/>
<path d="M894.1 526.1L913.3 526.1L903.7 543.6Z" fill="#f9d463"/>
<path d="M909.7 528.4L928.9 528.4L919.3 545.9Z" fill="#f9d463"/>
<path d="M933.2 521L952.4 521L942.8 538.5Z" fill="#f9d463"/>
<path d="M943.5 542.9L962.7 542.9L953.1 560.4Z" fill="#f9d463"/>
<path d="M922.7 546.9L941.9 546.9L932.3 564.4Z" fill="#f9d463"/>
<path d="M916 552.2L935.2 552.2L925.6 569.7Z" fill="#f9d463"/>
<path d="M1028.2 562.8L1047.4 562.8L1037.8 580.3Z" fill="#f9d463"/>
<circle cx="1150.5" cy="501" r="7.3" fill="#b2202b"/>
<circle cx="1197.4" cy="508.6" r="7.3" fill="#b2202b"/>
<circle cx="1122.6" cy="516.9" r="7.3" fill="#e21f26"/>
<circle cx="1152.8" cy="526.7" r="7.3" fill="#e21f26"/>
<circle cx="1086.5" cy="525.5" r="7.3" fill="#b2202b"/>
<circle cx="1191.9" cy="489" r="7.3" fill="#fbd66c"/>
<circle cx="1209" cy="548.8" r="7.3" fill="#fbd66c"/>
<path d="M1159.5 549.7L1169.1 567.2L1149.9 567.2Z" fill="#6aaed8"/>
<circle cx="1059.4" cy="550" r="7.3" fill="#f58b3b"/>
<circle cx="1002.9" cy="569.6" r="7.3" fill="#f58b3b"/>
<circle cx="1022" cy="575.9" r="7.3" fill="#f58b3b"/>
<circle cx="994.6" cy="582.1" r="7.3" fill="#f58b3b"/>
<circle cx="1083.5" cy="591.2" r="7.3" fill="#f58b3b"/>
<path d="M1263.5 188.9L1273.1 206.4L1253.9 206.4Z" fill="#6aaed8"/>
<path d="M1292.2 236.5L1301.8 254L1282.6 254Z" fill="#6aaed8"/>
<path d="M1232.5 239L1242.1 256.5L1222.9 256.5Z" fill="#6aaed8"/>
<path d="M1236.6 246.5L1246.2 264L1227 264Z" fill="#1c3576"/>
<circle cx="1391.9" cy="248.1" r="7.3" fill="#fbd66c"/>
<path d="M1226.6 279.8L1236.2 297.3L1217 297.3Z" fill="#6aaed8"/>
<path d="M1230 290.6L1239.6 308.1L1220.4 308.1Z" fill="#ffffff"/>
<path d="M1309.7 314.7L1319.3 332.2L1300.1 332.2Z" fill="#1c3576"/>
<path d="M1342.1 310.2L1351.7 327.7L1332.5 327.7Z" fill="#1c3576"/>
<path d="M1323.5 347.2L1333.1 364.7L1313.9 364.7Z" fill="#c3d9ee"/>
<path d="M1335.7 344.6L1345.3 362.1L1326.1 362.1Z" fill="#1c3576"/>
<circle cx="1364.8" cy="346.4" r="7.3" fill="#fbd66c"/>
<circle cx="1309.3" cy="396.5" r="7.3" fill="#fbd66c"/>
<path d="M1281.1 393.6L1290.7 411.1L1271.5 411.1Z" fill="#4b9bd0"/>
<path d="M1245.2 399.5L1254.8 417L1235.6 417Z" fill="#4b9bd0"/>
<circle cx="1272.3" cy="424.9" r="7.3" fill="#fbd66c"/>
<path d="M1239.6 424.5L1249.2 442L1230 442Z" fill="#1c3576"/>
<circle cx="1294.9" cy="439.3" r="7.3" fill="#fbd66c"/>
<circle cx="1311.2" cy="457.7" r="7.3" fill="#fbd66c"/>
<circle cx="1281.4" cy="477.4" r="7.3" fill="#fbd66c"/>
<circle cx="1389" cy="510.3" r="7.3" fill="#fbd66c"/>
<circle cx="1314.7" cy="557.9" r="7.3" fill="#fbd66c"/>
<circle cx="1341" cy="595.6" r="7.3" fill="#fbd66c"/>
</g>
<g class="m">
<rect x="1562.4" y="114.1" width="13.4" height="13.4" fill="#a3d69c"/>
<path d="M1666.4 120.5L1675.8 129.9L1666.4 139.3L1657 129.9Z" fill="#f3f3fb"/>
<circle cx="1788.2" cy="111.1" r="7.3" fill="#fbd66c"/>
<rect x="1683.8" y="158.1" width="13.4" height="13.4" fill="#a3d69c"/>
<path d="M1662.2 172.9L1671.6 182.3L1662.2 191.7L1652.8 182.3Z" fill="#f3f3fb"/>
<circle cx="1891.2" cy="161.5" r="7.3" fill="#e21f26"/>
<path d="M1792.7 176.7L1802.1 186.1L1792.7 195.5L1783.3 186.1Z" fill="#7a6db8"/>
<circle cx="1802.6" cy="190.1" r="7.3" fill="#fbd66c"/>
<circle cx="1718.2" cy="198" r="7.3" fill="#b2202b"/>
<rect x="1714" y="200" width="13.4" height="13.4" fill="#e6f3e1"/>
<path d="M1672.2 196.5L1681.6 205.9L1672.2 215.3L1662.8 205.9Z" fill="#f3f3fb"/>
<rect x="1656.3" y="201" width="13.4" height="13.4" fill="#a3d69c"/>
<rect x="1639.2" y="209.1" width="13.4" height="13.4" fill="#a3d69c"/>
<rect x="1590.2" y="221.3" width="13.4" height="13.4" fill="#a3d69c"/>
<rect x="1644.4" y="223.3" width="13.4" height="13.4" fill="#a3d69c"/>
<rect x="1658.8" y="225.1" width="13.4" height="13.4" fill="#a3d69c"/>
<rect x="1599.3" y="240.7" width="13.4" height="13.4" fill="#e6f3e1"/>
<path d="M1706.8 214.1L1716.2 223.5L1706.8 232.9L1697.4 223.5Z" fill="#f3f3fb"/>
<path d="M1707.1 210.6L1716.5 220L1707.1 229.4L1697.7 220Z" fill="#54299a"/>
<circle cx="1743.3" cy="216.8" r="7.3" fill="#e21f26"/>
<circle cx="1745.6" cy="235.1" r="7.3" fill="#fbd66c"/>
<circle cx="1719.9" cy="242.9" r="7.3" fill="#b2202b"/>
<circle cx="1904.5" cy="219.3" r="7.3" fill="#f58b3b"/>
<circle cx="1843.7" cy="241.6" r="7.3" fill="#fbd66c"/>
<circle cx="1912.3" cy="244.6" r="7.3" fill="#e21f26"/>
<rect x="1632.7" y="252" width="13.4" height="13.4" fill="#a3d69c"/>
<rect x="1665" y="250.3" width="13.4" height="13.4" fill="#a3d69c"/>
<path d="M1689.6 251.9L1699 261.3L1689.6 270.7L1680.2 261.3Z" fill="#a29dd0"/>
<path d="M1685.1 262.6L1694.5 272L1685.1 281.4L1675.7 272Z" fill="#f3f3fb"/>
<path d="M1699.3 262.2L1708.7 271.6L1699.3 281L1689.9 271.6Z" fill="#ccc9e6"/>
<path d="M1723.7 263.1L1733.1 272.5L1723.7 281.9L1714.3 272.5Z" fill="#f3f3fb"/>
<circle cx="1730.7" cy="281.6" r="7.3" fill="#e21f26"/>
<circle cx="1756.6" cy="261.3" r="7.3" fill="#fbd66c"/>
<circle cx="1836.7" cy="270" r="7.3" fill="#f58b3b"/>
<path d="M1780.2 270.4L1789.8 287.9L1770.6 287.9Z" fill="#0d56a3"/>
<rect x="1574.4" y="284.5" width="13.4" height="13.4" fill="#a3d69c"/>
<rect x="1678.8" y="289.5" width="13.4" height="13.4" fill="#e6f3e1"/>
<path d="M1678 278L1687.4 287.4L1678 296.8L1668.6 287.4Z" fill="#a29dd0"/>
<rect x="1630.1" y="294.8" width="13.4" height="13.4" fill="#a3d69c"/>
<rect x="1644.4" y="294.8" width="13.4" height="13.4" fill="#a3d69c"/>
<rect x="1707" y="287.4" width="13.4" height="13.4" fill="#2f9e52"/>
<rect x="1718.7" y="288.5" width="13.4" height="13.4" fill="#a3d69c"/>
<rect x="1690.4" y="300.3" width="13.4" height="13.4" fill="#a3d69c"/>
<rect x="1658.8" y="308.1" width="13.4" height="13.4" fill="#a3d69c"/>
<circle cx="1660.2" cy="314" r="7.3" fill="#fffbce"/>
<circle cx="1697.9" cy="320.3" r="7.3" fill="#b2202b"/>
<path d="M1715.7 305.4L1725.1 314.8L1715.7 324.2L1706.3 314.8Z" fill="#7a6db8"/>
<path d="M1725 304.6L1734.4 314L1725 323.4L1715.6 314Z" fill="#54299a"/>
<path d="M1740.7 306.6L1750.1 316L1740.7 325.4L1731.3 316Z" fill="#ccc9e6"/>
<rect x="1679.3" y="322.6" width="13.4" height="13.4" fill="#a3d69c"/>
<rect x="1802.6" y="296.2" width="13.4" height="13.4" fill="#e6f3e1"/>
<circle cx="1848.8" cy="304.4" r="7.3" fill="#e21f26"/>
<circle cx="1804.3" cy="322.8" r="7.3" fill="#b2202b"/>
<circle cx="1795.2" cy="322.8" r="7.3" fill="#e21f26"/>
<path d="M1863.6 314.1L1873.2 331.6L1854 331.6Z" fill="#6aaed8"/>
<circle cx="1746.1" cy="339.8" r="7.3" fill="#b2202b"/>
<circle cx="1753.3" cy="340.1" r="7.3" fill="#f58b3b"/>
<circle cx="1742" cy="331.5" r="7.3" fill="#fde68f"/>
<rect x="1663" y="337.2" width="13.4" height="13.4" fill="#e6f3e1"/>
<path d="M1673.5 329.9L1682.9 339.3L1673.5 348.7L1664.1 339.3Z" fill="#a29dd0"/>
<circle cx="1768.9" cy="350.9" r="7.3" fill="#fbd66c"/>
<circle cx="1776.1" cy="340.6" r="7.3" fill="#fbd66c"/>
<circle cx="1786" cy="340.3" r="7.3" fill="#fbd66c"/>
<circle cx="1796" cy="336.5" r="7.3" fill="#fbd66c"/>
<rect x="1787.6" y="342.2" width="13.4" height="13.4" fill="#e6f3e1"/>
<rect x="1802.6" y="334.2" width="13.4" height="13.4" fill="#e6f3e1"/>
<circle cx="1825.6" cy="348.9" r="7.3" fill="#f58b3b"/>
<circle cx="1817.9" cy="360.2" r="7.3" fill="#fbd66c"/>
<path d="M1732.8 360.9L1742.4 378.4L1723.2 378.4Z" fill="#ffffff"/>
<path d="M1684.6 344.5L1694 353.9L1684.6 363.3L1675.2 353.9Z" fill="#f3f3fb"/>
<path d="M1704.1 341.5L1713.5 350.9L1704.1 360.3L1694.7 350.9Z" fill="#a29dd0"/>
<rect x="1713.7" y="359.7" width="13.4" height="13.4" fill="#a3d69c"/>
<circle cx="1708.7" cy="367.2" r="7.3" fill="#fde68f"/>
<path d="M1715.4 351.1L1724.8 360.5L1715.4 369.9L1706 360.5Z" fill="#f3f3fb"/>
<path d="M1741.2 343.7L1750.6 353.1L1741.2 362.5L1731.8 353.1Z" fill="#ccc9e6"/>
<path d="M1730.4 348.7L1739.8 358.1L1730.4 367.5L1721 358.1Z" fill="#54299a"/>
<path d="M1689.6 359.5L1699 368.9L1689.6 378.3L1680.2 368.9Z" fill="#f3f3fb"/>
<path d="M1791.5 352L1800.9 361.4L1791.5 370.8L1782.1 361.4Z" fill="#a29dd0"/>
<circle cx="1803.8" cy="368" r="7.3" fill="#e21f26"/>
<path d="M1778.2 359.3L1787.8 376.8L1768.6 376.8Z" fill="#ffffff"/>
<circle cx="1806.5" cy="378.8" r="7.3" fill="#f58b3b"/>
<circle cx="1781.9" cy="380.5" r="7.3" fill="#f58b3b"/>
<circle cx="1767.2" cy="380.8" r="7.3" fill="#fde68f"/>
<circle cx="1776.1" cy="373" r="7.3" fill="#fbd66c"/>
<circle cx="1776.9" cy="378.8" r="7.3" fill="#fbd66c"/>
<circle cx="1872.4" cy="355.1" r="7.3" fill="#e21f26"/>
<circle cx="1868.3" cy="365.9" r="7.3" fill="#fbd66c"/>
<circle cx="1892.9" cy="358.6" r="7.3" fill="#f9ad49"/>
<circle cx="1891.6" cy="368" r="7.3" fill="#f58b3b"/>
<circle cx="1905.7" cy="351.4" r="7.3" fill="#e21f26"/>
<circle cx="1918.2" cy="370.5" r="7.3" fill="#f58b3b"/>
<circle cx="1845.5" cy="376.8" r="7.3" fill="#f58b3b"/>
<rect x="1815.9" y="375.5" width="13.4" height="13.4" fill="#e6f3e1"/>
<path d="M1816.8 374.2L1826.4 391.7L1807.2 391.7Z" fill="#4b9bd0"/>
<path d="M1832.6 376.7L1842.2 394.2L1823 394.2Z" fill="#c3d9ee"/>
<path d="M1894.1 373.4L1903.7 390.9L1884.5 390.9Z" fill="#6aaed8"/>
<circle cx="1910.7" cy="395.9" r="7.3" fill="#f58b3b"/>
<path d="M1741.2 385.9L1750.8 403.4L1731.6 403.4Z" fill="#ffffff"/>
<rect x="1682.9" y="375.5" width="13.4" height="13.4" fill="#a3d69c"/>
<circle cx="1695.4" cy="384.6" r="7.3" fill="#b2202b"/>
<path d="M1700.4 375.2L1709.8 384.6L1700.4 394L1691 384.6Z" fill="#f3f3fb"/>
<circle cx="1714.2" cy="385" r="7.3" fill="#fbd66c"/>
<path d="M1728.7 371.4L1738.1 380.8L1728.7 390.2L1719.3 380.8Z" fill="#ccc9e6"/>
<path d="M1740.3 374.4L1749.7 383.8L1740.3 393.2L1730.9 383.8Z" fill="#f3f3fb"/>
<path d="M1668.9 386.2L1688.1 386.2L1678.5 403.7Z" fill="#f9d463"/>
<rect x="1616" y="378.3" width="13.4" height="13.4" fill="#e6f3e1"/>
<circle cx="1725.4" cy="397.6" r="7.3" fill="#e21f26"/>
<path d="M1735.3 386.9L1744.7 396.3L1735.3 405.7L1725.9 396.3Z" fill="#54299a"/>
<circle cx="1734.5" cy="406.3" r="7.3" fill="#fde68f"/>
<circle cx="1726.2" cy="419.5" r="7.3" fill="#fde68f"/>
<rect x="1726.1" y="409.5" width="13.4" height="13.4" fill="#e6f3e1"/>
<circle cx="1757.8" cy="410.1" r="7.3" fill="#e21f26"/>
<path d="M1771.9 395.8L1781.5 413.3L1762.3 413.3Z" fill="#0d56a3"/>
<circle cx="1784.4" cy="400.4" r="7.3" fill="#b2202b"/>
<circle cx="1782.7" cy="396.3" r="7.3" fill="#fbd66c"/>
<circle cx="1808.8" cy="404.3" r="7.3" fill="#f58b3b"/>
<circle cx="1798.8" cy="409.1" r="7.3" fill="#fbd66c"/>
<path d="M1825.4 390L1835 407.5L1815.8 407.5Z" fill="#1c3576"/>
<circle cx="1853.3" cy="401.6" r="7.3" fill="#f58b3b"/>
<circle cx="1820.6" cy="414.6" r="7.3" fill="#e21f26"/>
<path d="M1803.5 409.1L1813.1 426.6L1793.9 426.6Z" fill="#0d56a3"/>
<path d="M1817.3 403.3L1826.9 420.8L1807.7 420.8Z" fill="#0d56a3"/>
<path d="M1835.9 413.7L1845.5 431.2L1826.3 431.2Z" fill="#6aaed8"/>
<path d="M1853.3 421.2L1862.9 438.7L1843.7 438.7Z" fill="#0d56a3"/>
<path d="M1848.7 415.4L1867.9 415.4L1858.3 432.9Z" fill="#f9d463"/>
<path d="M1872.4 404.2L1882 421.7L1862.8 421.7Z" fill="#1c3576"/>
<path d="M1879.4 407.6L1889 425.1L1869.8 425.1Z" fill="#1c3576"/>
<path d="M1881.6 412.1L1891.2 429.6L1872 429.6Z" fill="#c3d9ee"/>
<path d="M1894.6 412.9L1904.2 430.4L1885 430.4Z" fill="#c3d9ee"/>
<path d="M1871.6 418.7L1881.2 436.2L1862 436.2Z" fill="#4b9bd0"/>
<path d="M1919 407.9L1928.6 425.4L1909.4 425.4Z" fill="#0d56a3"/>
<path d="M1878.3 428L1887.7 437.4L1878.3 446.8L1868.9 437.4Z" fill="#ccc9e6"/>
<circle cx="1890.4" cy="441.9" r="7.3" fill="#ee5430"/>
<path d="M1865.8 436.8L1875.2 446.2L1865.8 455.6L1856.4 446.2Z" fill="#ccc9e6"/>
<path d="M1758.9 423.7L1768.5 441.2L1749.3 441.2Z" fill="#ffffff"/>
<circle cx="1743.3" cy="433.3" r="7.3" fill="#e21f26"/>
<path d="M1767.7 427.8L1777.3 445.3L1758.1 445.3Z" fill="#0d56a3"/>
<path d="M1727.5 428L1736.9 437.4L1727.5 446.8L1718.1 437.4Z" fill="#a29dd0"/>
<rect x="1702" y="437.4" width="13.4" height="13.4" fill="#a3d69c"/>
<path d="M1704.1 436.2L1723.3 436.2L1713.7 453.7Z" fill="#f9d463"/>
<path d="M1737 451.1L1746.6 468.6L1727.4 468.6Z" fill="#ffffff"/>
<path d="M1725.7 443.5L1735.1 452.9L1725.7 462.3L1716.3 452.9Z" fill="#a29dd0"/>
<path d="M1737 448.8L1746.4 458.2L1737 467.6L1727.6 458.2Z" fill="#ccc9e6"/>
<path d="M1742.8 440.2L1752.2 449.6L1742.8 459L1733.4 449.6Z" fill="#ccc9e6"/>
<path d="M1771.1 444.5L1780.7 462L1761.5 462Z" fill="#c3d9ee"/>
<rect x="1751.9" y="468.9" width="13.4" height="13.4" fill="#e6f3e1"/>
<path d="M1758.6 455.4L1768 464.8L1758.6 474.2L1749.2 464.8Z" fill="#a29dd0"/>
<path d="M1794.3 441.1L1803.9 458.6L1784.7 458.6Z" fill="#9ccae3"/>
<path d="M1807.6 433.8L1817 443.2L1807.6 452.6L1798.2 443.2Z" fill="#a29dd0"/>
<path d="M1799.3 426.2L1808.9 443.7L1789.7 443.7Z" fill="#2378bd"/>
<path d="M1796.8 439.1L1806.4 456.6L1787.2 456.6Z" fill="#0d56a3"/>
<path d="M1815.1 451.1L1824.7 468.6L1805.5 468.6Z" fill="#ffffff"/>
<path d="M1812.3 442.8L1821.9 460.3L1802.7 460.3Z" fill="#1c3576"/>
<circle cx="1801.5" cy="470.2" r="7.3" fill="#fbd66c"/>
<path d="M1839.2 451.9L1848.8 469.4L1829.6 469.4Z" fill="#9ccae3"/>
<path d="M1855 454.4L1864.6 471.9L1845.4 471.9Z" fill="#c3d9ee"/>
<path d="M1850 445.3L1859.6 462.8L1840.4 462.8Z" fill="#0d56a3"/>
<path d="M1685.8 454.4L1705 454.4L1695.4 471.9Z" fill="#f9d463"/>
<path d="M1689.3 465.7L1698.7 475.1L1689.3 484.5L1679.9 475.1Z" fill="#ccc9e6"/>
<path d="M1689.2 482.7L1708.4 482.7L1698.8 500.2Z" fill="#f9d463"/>
<path d="M1726.5 473.5L1736.1 491L1716.9 491Z" fill="#ffffff"/>
<path d="M1745.3 475.7L1754.9 493.2L1735.7 493.2Z" fill="#0d56a3"/>
<path d="M1768.1 478.7L1777.5 488.1L1768.1 497.5L1758.7 488.1Z" fill="#54299a"/>
<path d="M1784.4 467.7L1794 485.2L1774.8 485.2Z" fill="#6aaed8"/>
<circle cx="1796.8" cy="503.9" r="7.3" fill="#fffbce"/>
<path d="M1795.2 484L1804.8 501.5L1785.6 501.5Z" fill="#c3d9ee"/>
<circle cx="1837.5" cy="481" r="7.3" fill="#fffbce"/>
<path d="M1852 471.9L1861.6 489.4L1842.4 489.4Z" fill="#0d56a3"/>
<path d="M1830.1 496.3L1839.7 513.8L1820.5 513.8Z" fill="#deebf7"/>
<path d="M1841.7 490.2L1851.3 507.7L1832.1 507.7Z" fill="#ffffff"/>
<path d="M1712.6 493.7L1722 503.1L1712.6 512.5L1703.2 503.1Z" fill="#a29dd0"/>
<path d="M1691.7 496.8L1710.9 496.8L1701.3 514.3Z" fill="#f9d463"/>
<path d="M1694.7 508.4L1713.9 508.4L1704.3 525.9Z" fill="#f9d463"/>
<path d="M1779.4 507L1788.8 516.4L1779.4 525.8L1770 516.4Z" fill="#a29dd0"/>
<circle cx="1776.1" cy="506.4" r="7.3" fill="#b2202b"/>
<path d="M1768.9 500.1L1788.1 500.1L1778.5 517.6Z" fill="#f9d463"/>
<path d="M1807.6 498.5L1817.2 516L1798 516Z" fill="#deebf7"/>
<circle cx="1763.6" cy="521.4" r="7.3" fill="#e21f26"/>
<path d="M1795.7 514.3L1805.3 531.8L1786.1 531.8Z" fill="#deebf7"/>
<circle cx="1779" cy="525.8" r="7.3" fill="#fffbce"/>
<path d="M1832.2 523.4L1841.8 540.9L1822.6 540.9Z" fill="#1c3576"/>
<path d="M1850.8 520.6L1860.4 538.1L1841.2 538.1Z" fill="#0d56a3"/>
<path d="M1716.1 516.8L1735.3 516.8L1725.7 534.3Z" fill="#f9d463"/>
<path d="M1710.8 533.4L1730 533.4L1720.4 550.9Z" fill="#f9d463"/>
<path d="M1714.1 527.6L1733.3 527.6L1723.7 545.1Z" fill="#f9d463"/>
<path d="M1727.9 532.5L1747.1 532.5L1737.5 550Z" fill="#f9d463"/>
<path d="M1729.6 537.5L1748.8 537.5L1739.2 555Z" fill="#f9d463"/>
<path d="M1735.7 553.3L1754.9 553.3L1745.3 570.8Z" fill="#f9d463"/>
<circle cx="1764.8" cy="553.3" r="7.3" fill="#fffbce"/>
<circle cx="1814.3" cy="546.3" r="7.3" fill="#fffbce"/>
<path d="M1787.7 550.8L1806.9 550.8L1797.3 568.3Z" fill="#f9d463"/>
<path d="M1734.9 576.6L1754.1 576.6L1744.5 594.1Z" fill="#f9d463"/>
<path d="M1781.4 572.2L1800.6 572.2L1791 589.7Z" fill="#f9d463"/>
<path d="M1806.2 584.3L1815.8 601.8L1796.6 601.8Z" fill="#6aaed8"/>
<circle cx="1972.8" cy="170.1" r="7.3" fill="#f58b3b"/>
<circle cx="2070.8" cy="185.8" r="7.3" fill="#f58b3b"/>
<circle cx="1980.1" cy="220" r="7.3" fill="#f58b3b"/>
<circle cx="2011" cy="222.9" r="7.3" fill="#f58b3b"/>
<circle cx="1996.4" cy="227.3" r="7.3" fill="#f58b3b"/>
<circle cx="2015" cy="251.1" r="7.3" fill="#f9ad49"/>
<circle cx="2060" cy="254.4" r="7.3" fill="#f58b3b"/>
<circle cx="2078.3" cy="270" r="7.3" fill="#f58b3b"/>
<circle cx="2091" cy="268.3" r="7.3" fill="#f58b3b"/>
<circle cx="1933" cy="291.2" r="7.3" fill="#f58b3b"/>
<circle cx="1942.1" cy="280.3" r="7.3" fill="#e21f26"/>
<circle cx="1938.6" cy="300.2" r="7.3" fill="#ee5430"/>
<circle cx="1978.5" cy="286.2" r="7.3" fill="#f58b3b"/>
<circle cx="1979.8" cy="300.7" r="7.3" fill="#e21f26"/>
<circle cx="1981.4" cy="314.8" r="7.3" fill="#ee5430"/>
<circle cx="2014.2" cy="281.6" r="7.3" fill="#f58b3b"/>
<circle cx="2081.6" cy="305.2" r="7.3" fill="#f58b3b"/>
<circle cx="1949.9" cy="324.3" r="7.3" fill="#ee5430"/>
<circle cx="1954" cy="336.4" r="7.3" fill="#f58b3b"/>
<circle cx="1972.8" cy="340.5" r="7.3" fill="#f9ad49"/>
<circle cx="1962.7" cy="343.5" r="7.3" fill="#f58b3b"/>
<circle cx="1982.8" cy="341.9" r="7.3" fill="#f58b3b"/>
<circle cx="2056.2" cy="340" r="7.3" fill="#f58b3b"/>
<circle cx="2079.9" cy="341.9" r="7.3" fill="#f58b3b"/>
<circle cx="2065" cy="367.4" r="7.3" fill="#f58b3b"/>
<circle cx="1948.6" cy="364.9" r="7.3" fill="#f9ad49"/>
<circle cx="1994.2" cy="370.1" r="7.3" fill="#f58b3b"/>
<circle cx="2010.8" cy="370.1" r="7.3" fill="#f58b3b"/>
<circle cx="1964.8" cy="381.2" r="7.3" fill="#f9ad49"/>
<circle cx="1953.5" cy="380.4" r="7.3" fill="#f58b3b"/>
<circle cx="1971.8" cy="382.1" r="7.3" fill="#f58b3b"/>
<circle cx="1971.5" cy="398.3" r="7.3" fill="#f9ad49"/>
<circle cx="1979.8" cy="394.5" r="7.3" fill="#f58b3b"/>
<circle cx="1987.6" cy="393.3" r="7.3" fill="#f58b3b"/>
<circle cx="1953.2" cy="408.6" r="7.3" fill="#f9ad49"/>
<circle cx="1943.6" cy="416.1" r="7.3" fill="#f58b3b"/>
<circle cx="1976.1" cy="418.6" r="7.3" fill="#f9ad49"/>
<circle cx="1943.6" cy="425.3" r="7.3" fill="#e21f26"/>
<circle cx="1924.6" cy="441.1" r="7.3" fill="#f9ad49"/>
<circle cx="1955.4" cy="446.5" r="7.3" fill="#e21f26"/>
</g>
</svg></body></html>
